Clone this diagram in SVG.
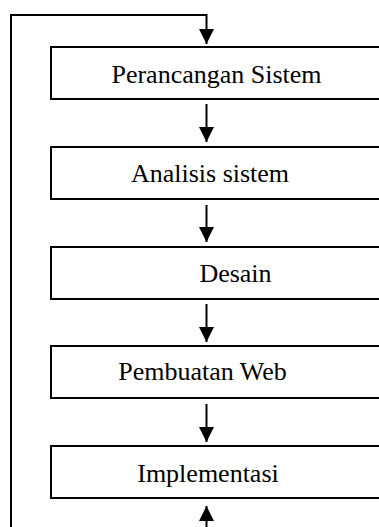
<svg xmlns="http://www.w3.org/2000/svg" width="379" height="527" viewBox="0 0 379 527">
<style>
.box{fill:#fff;stroke:#000;stroke-width:2}
.lbl{font-family:"Liberation Serif","Times New Roman",serif;font-size:26px;fill:#000;text-anchor:middle}
.ln{fill:none;stroke:#000;stroke-width:2}
</style>
<defs>
<marker id="ah" markerWidth="15" markerHeight="15" refX="15" refY="7.5" orient="auto" markerUnits="userSpaceOnUse">
<path d="M0,0 L15,7.5 L0,15 Z" fill="#000"/>
</marker>
</defs>
<rect width="379" height="527" fill="#fff"/>
<g id="connectors">
<path class="ln" d="M11,527 V15 H206.5 V44" marker-end="url(#ah)"/>
<path class="ln" d="M206.5,104 V142" marker-end="url(#ah)"/>
<path class="ln" d="M206.5,205 V242" marker-end="url(#ah)"/>
<path class="ln" d="M206.5,304 V342" marker-end="url(#ah)"/>
<path class="ln" d="M206.5,404 V442" marker-end="url(#ah)"/>
<path class="ln" d="M206.5,527 V506" marker-end="url(#ah)"/>
</g>
<g id="perancangan"><rect class="box" x="51" y="47" width="340" height="52"/><text class="lbl" x="216.5" y="82.5">Perancangan Sistem</text></g>
<g id="analisis"><rect class="box" x="51" y="147" width="340" height="52"/><text class="lbl" x="210" y="181.7">Analisis sistem</text></g>
<g id="desain"><rect class="box" x="51" y="247" width="340" height="52"/><text class="lbl" x="235.5" y="281.7">Desain</text></g>
<g id="pembuatan"><rect class="box" x="51" y="346" width="340" height="52"/><text class="lbl" x="202.5" y="380">Pembuatan Web</text></g>
<g id="implementasi"><rect class="box" x="51" y="446" width="340" height="52"/><text class="lbl" x="208" y="481.7">Implementasi</text></g>
</svg>
